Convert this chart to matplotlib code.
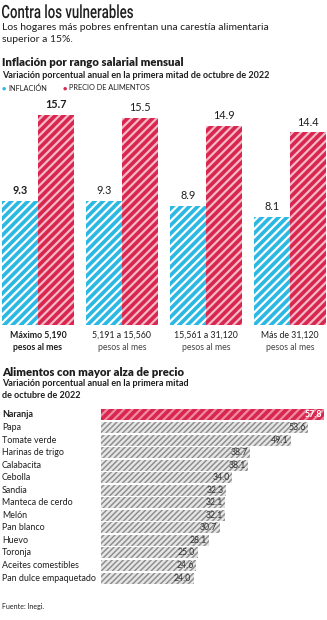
import numpy as np
import matplotlib.pyplot as plt
from matplotlib.textpath import TextPath
from matplotlib.patches import PathPatch
from matplotlib.font_manager import FontProperties
from matplotlib.transforms import Affine2D, IdentityTransform

plt.rcParams['font.family'] = ['Lato', 'DejaVu Sans']
plt.rcParams['hatch.linewidth'] = 1.6

# inflacion por rango salarial
rangos_1 = ['Máximo 5,190', '5,191 a 15,560', '15,561 a 31,120', 'Más de 31,120']
rangos_2 = ['pesos al mes', 'pesos al mes', 'pesos al mes', 'pesos al mes']
inflacion = [9.3, 9.3, 8.9, 8.1]
alimentos = [15.7, 15.5, 14.9, 14.4]

# alimentos con mayor alza
productos = ['Naranja', 'Papa', 'Tomate verde', 'Harinas de trigo', 'Calabacita',
             'Cebolla', 'Sandia', 'Manteca de cerdo', 'Melón', 'Pan blanco',
             'Huevo', 'Toronja', 'Aceites comestibles', 'Pan dulce empaquetado']
alzas = [57.8, 53.6, 49.1, 38.7, 38.1, 34.0, 32.3, 32.1, 32.1, 30.7,
         28.1, 25.0, 24.6, 24.0]

CYAN = '#2bb8e2'
RED = '#d8264f'
TXT = '#1e1e1e'

W, H = 327, 620
fig = plt.figure(figsize=(W / 100, H / 100), dpi=100)

def px(x, y):
    return x / W, 1 - y / H

# titulo condensado: se dibuja como trazo y se comprime a lo ancho
tp = TextPath((0, 0), 'Contra los vulnerables', size=100,
              prop=FontProperties(family='Roboto', weight='medium'))
ext = tp.get_extents()
sx = 131 / ext.width
sy = 13 / 71.1
tr = Affine2D().translate(-ext.x0, 0).scale(sx, sy).translate(2, H - 18)
fig.patches.append(PathPatch(tp, transform=tr + IdentityTransform(),
                             facecolor=TXT, edgecolor='none', figure=fig))

fig.text(*px(2, 27), 'Los hogares más pobres enfrentan una carestía alimentaria',
         fontsize=7.5, color=TXT, va='center')
fig.text(*px(2, 39), 'superior a 15%.', fontsize=7.5, color=TXT, va='center')
fig.text(*px(2, 63), 'Inflación por rango salarial mensual', fontsize=8.2,
         weight='heavy', color=TXT, va='center')
fig.text(*px(2, 76), 'Variación porcentual anual en la primera mitad de octubre de 2022',
         fontsize=6.5, weight='bold', color=TXT, va='center')

# leyenda
fig.text(*px(4, 88), '●', color=CYAN, fontsize=5.2, va='center', ha='center')
fig.text(*px(8, 88), 'INFLACIÓN', color=TXT, fontsize=5.3, va='center')
fig.text(*px(65, 88), '●', color=RED, fontsize=5.2, va='center', ha='center')
fig.text(*px(69, 88), 'PRECIO DE ALIMENTOS', color=TXT, fontsize=5.3, va='center')

# barras verticales
ax1 = fig.add_axes([0, 1 - 325 / H, 1, 225 / H])
x = np.arange(len(inflacion))
bw = 0.423
ax1.bar(x - 0.212, inflacion, bw, color=CYAN, edgecolor='white', lw=0, hatch='////')
ax1.bar(x + 0.212, alimentos, bw, color=RED, edgecolor='#f4b8c6', lw=0, hatch='////')
for i in range(len(x)):
    w = 'bold' if i == 0 else 'normal'
    ax1.text(x[i] - 0.212, inflacion[i] + 0.35, f'{inflacion[i]:.1f}', ha='center',
             va='bottom', fontsize=7.8, weight=w, color=TXT)
    ax1.text(x[i] + 0.212, alimentos[i] + 0.35, f'{alimentos[i]:.1f}', ha='center',
             va='bottom', fontsize=7.8, weight=w, color=TXT)
    ax1.text(x[i], -0.75, rangos_1[i], ha='center', va='center', fontsize=6.3,
             weight=w, color=TXT)
    ax1.text(x[i], -1.65, rangos_2[i], ha='center', va='center', fontsize=6.3,
             weight=w, color=TXT if i == 0 else '#444444')
ax1.set_xlim(-38 / 84, (W - 38) / 84)
ax1.set_ylim(0, 225 / 13.375)
ax1.axis('off')

# segunda seccion
fig.text(*px(2, 372), 'Alimentos con mayor alza de precio', fontsize=8.2,
         weight='heavy', color=TXT, va='center')
fig.text(*px(2, 384), 'Variación porcentual anual en la primera mitad',
         fontsize=6.5, weight='bold', color=TXT, va='center')
fig.text(*px(2, 395), 'de octubre de 2022', fontsize=6.5, weight='bold', color=TXT, va='center')

ax2 = fig.add_axes([101 / W, 1 - 584.3 / H, 226 / W, 175.6 / H])
y = np.arange(len(alzas))
ax2.barh(y[:1], alzas[:1], 0.88, color=RED, edgecolor='#ef8aa2', lw=0, hatch='////')
with plt.rc_context({'hatch.linewidth': 1.1}):
    ax2.barh(y[1:], alzas[1:], 0.88, color='#e6e6e6', edgecolor='#8f8f8f', lw=0,
             hatch='//////')
for i, v in enumerate(alzas):
    if i == 0:
        ax2.text(v - 0.6, i, f'{v:.1f}', ha='right', va='center', fontsize=6.3,
                 weight='bold', color='white')
    else:
        ax2.text(v - 0.6, i, f'{v:.1f}', ha='right', va='center', fontsize=6.3,
                 color='#333333')
    ax2.text(-99 / 3.86, i, productos[i], ha='left', va='center',
             fontsize=6.4, weight='bold' if i == 0 else 'normal', color=TXT)
ax2.set_xlim(0, 226 / 3.86)
ax2.set_ylim(len(alzas) - 0.5, -0.5)
ax2.axis('off')

fig.text(*px(2, 606), 'Fuente: Inegi.', fontsize=5, color=TXT, va='center')

fig.savefig('out.png', dpi=100)
